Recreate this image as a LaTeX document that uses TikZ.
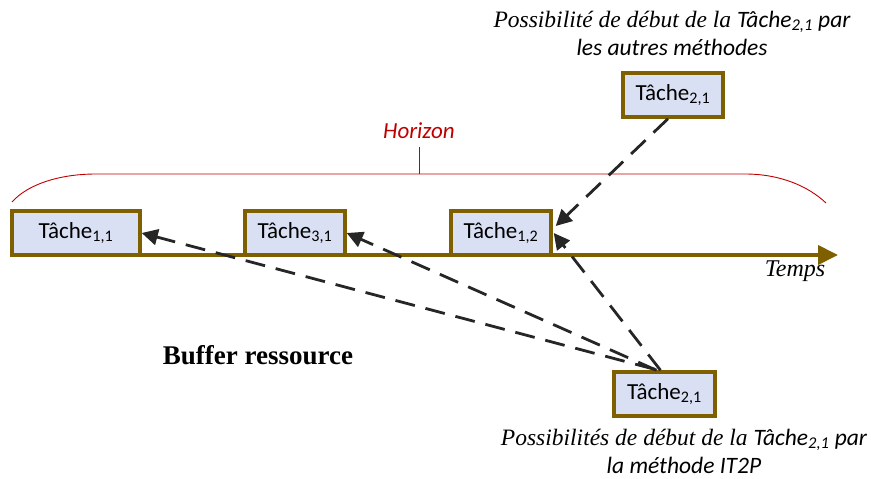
\documentclass[tikz,border=0pt]{standalone}
\usepackage{fontspec}
\setmainfont{Liberation Serif}
\newfontfamily\calib{Carlito}
\usetikzlibrary{arrows.meta}
\definecolor{brn}{HTML}{7F6000}
\definecolor{boxfill}{HTML}{DAE0F3}
\definecolor{hred}{HTML}{C00000}
\definecolor{arr}{HTML}{262626}
\tikzset{
  task/.style={draw=brn, line width=3.5pt, fill=boxfill, minimum width=100pt, minimum height=44pt, inner sep=0pt, font=\calib\fontsize{23}{27}\selectfont},
  dasharrow/.style={draw=arr, line width=2.8pt, dash pattern=on 20pt off 11pt, -{Triangle[length=16pt,width=16pt]}},
  caption/.style={align=center, inner sep=0pt, font=\fontsize{23.5}{28}\selectfont\itshape}
}
\begin{document}
\begin{tikzpicture}[x=1pt,y=-1pt]
\useasboundingbox (0,0) rectangle (871,479);
% axis
\coordinate (axs) at (10,255);
\coordinate (axe) at (838,255);
\draw[brn, line width=4pt, -{Triangle[length=20pt,width=19pt]}] (axs) -- (axe);
\node[font=\fontsize{24}{27}\selectfont\itshape] (temps) at (795,271) {Temps};
% horizon
\coordinate (h1) at (12,202);
\coordinate (h2) at (96,174);
\coordinate (hm) at (419,174);
\coordinate (hmt) at (419,147);
\coordinate (h3) at (745,174);
\coordinate (h4) at (826,203);
\draw[hred, line width=0.9pt] (h1) .. controls (28,184) and (60,174) .. (h2) -- (h3) .. controls (780,174) and (808,186) .. (h4);
\draw[hred, line width=0.9pt] (hm) -- (hmt);
\node[text=hred, font=\calib\fontsize{23}{27}\selectfont\itshape] (hor) at (419,131) {Horizon};
% tasks
\node[task, minimum width=128pt] (t11) at (76,233) {Tâche\textsubscript{1,1}};
\node[task] (t31) at (295,233) {Tâche\textsubscript{3,1}};
\node[task] (t12) at (501,233) {Tâche\textsubscript{1,2}};
\node[task] (top) at (673,95) {Tâche\textsubscript{2,1}};
\node[task, minimum width=101pt] (bot) at (664.5,394) {Tâche\textsubscript{2,1}};
% captions
\node[caption] (capt) at (672,33) {Possibilité de début de la {\calib Tâche\textsubscript{2,1} par}\\{\calib les autres méthodes}};
\node[caption] (capb) at (684,451) {Possibilités de début de la {\calib Tâche\textsubscript{2,1} par}\\{\calib la méthode IT2P}};
\node[font=\fontsize{27}{30}\selectfont\bfseries] (buf) at (258,355) {Buffer ressource};
% arrows
\draw[dasharrow] ([xshift=-5pt]top.south) -- ([yshift=7pt,xshift=3pt]t12.east);
\draw[dasharrow] ([xshift=-4pt]bot.north) -- ([xshift=1pt]t12.east);
\draw[dasharrow] ([xshift=-8pt]bot.north) -- (t31.east);
\draw[dasharrow] ([xshift=-10pt,yshift=1pt]bot.north) -- (t11.east);
\end{tikzpicture}
\end{document}
